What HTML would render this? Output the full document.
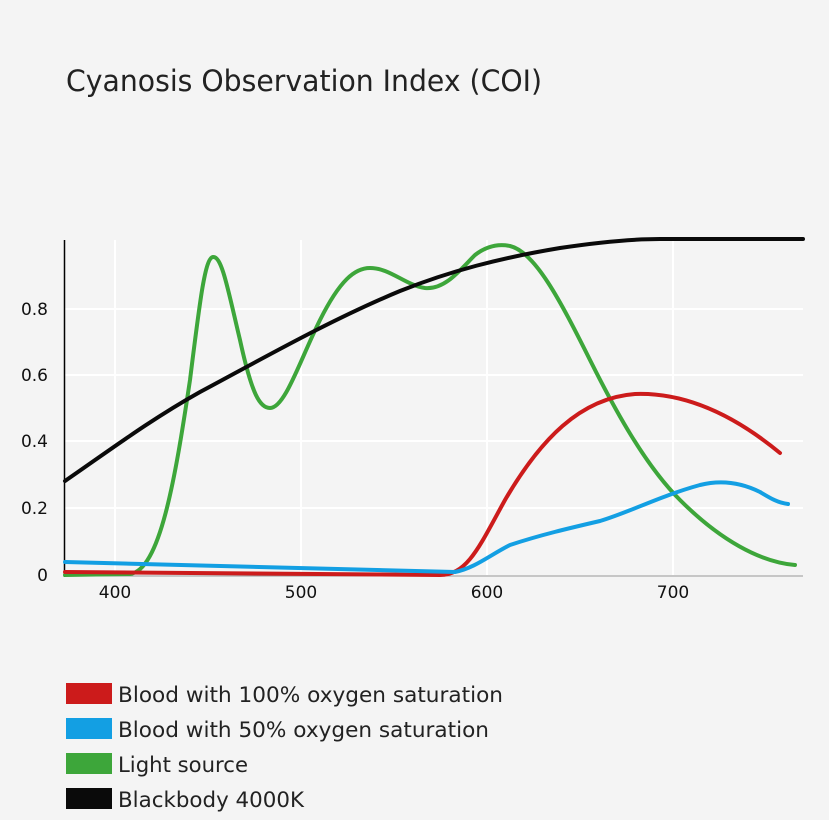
<!DOCTYPE html>
<html><head><meta charset="utf-8"><style>
body{margin:0;background:#f4f4f4;width:829px;height:815px;overflow:hidden;font-family:"Liberation Sans","DejaVu Sans",sans-serif;}
</style></head><body>
<svg width="829" height="815" xmlns="http://www.w3.org/2000/svg">
<rect width="829" height="815" fill="#f4f4f4"/>
<text x="66" y="91" font-size="29" fill="#222" font-family="DejaVu Sans, sans-serif" textLength="476" lengthAdjust="spacingAndGlyphs">Cyanosis Observation Index (COI)</text>
<g stroke="#fff" stroke-width="2">
<line x1="115" y1="240" x2="115" y2="575"/><line x1="301" y1="240" x2="301" y2="575"/>
<line x1="487" y1="240" x2="487" y2="575"/><line x1="673" y1="240" x2="673" y2="575"/>
<line x1="65" y1="309" x2="803" y2="309"/><line x1="65" y1="375" x2="803" y2="375"/>
<line x1="65" y1="441" x2="803" y2="441"/><line x1="65" y1="508" x2="803" y2="508"/>
</g>
<line x1="65" y1="576" x2="803" y2="576" stroke="#999" stroke-width="1"/>
<line x1="64.5" y1="240" x2="64.5" y2="577" stroke="#000" stroke-width="1.5"/>
<g font-size="17" fill="#111" font-family="DejaVu Sans, sans-serif" text-anchor="end">
<text x="48" y="315">0.8</text><text x="48" y="381">0.6</text><text x="48" y="447">0.4</text><text x="48" y="514">0.2</text><text x="48" y="581">0</text>
</g>
<g font-size="17" fill="#111" font-family="DejaVu Sans, sans-serif" text-anchor="middle">
<text x="115" y="598">400</text><text x="301" y="598">500</text><text x="487" y="598">600</text><text x="673" y="598">700</text>
</g>
<g fill="none" stroke-width="4" stroke-linecap="round" stroke-linejoin="round">
<path stroke="#3da63a" d="M65,575 L130,574 C160,570 175,480 190,380 C200,300 205,258 213,257 C222,256 228,290 240,340 C252,395 260,408 270,408 C285,408 300,360 320,320 C340,280 355,268 370,268 C390,268 405,285 425,288 C445,290 460,270 475,255 C488,245 500,244 510,246 C535,252 560,300 590,360 C615,410 645,465 680,500 C720,540 760,562 795,565"/>
<path stroke="#0a0a0a" d="M65,481 C110,450 150,420 200,392 C260,360 330,320 400,291 C450,271 500,258 560,248 C600,242 630,239 660,239 L803,239"/>
<path stroke="#cc1b1b" d="M65,572 L440,575 C468,575 480,545 505,500 C540,440 580,398 635,394 C690,392 740,420 780,453"/>
<path stroke="#139fe3" d="M65,562 L455,572 C475,568 490,555 510,545 C540,535 570,528 600,521 C630,512 660,496 700,485 C720,480 740,482 760,492 C770,498 778,503 788,504"/>
</g>
<g font-size="21" fill="#222" font-family="DejaVu Sans, sans-serif">
<rect x="66" y="683" width="46" height="21" fill="#cc1b1b"/><text x="118" y="702" textLength="385" lengthAdjust="spacingAndGlyphs">Blood with 100% oxygen saturation</text>
<rect x="66" y="718" width="46" height="21" fill="#139fe3"/><text x="118" y="737" textLength="371" lengthAdjust="spacingAndGlyphs">Blood with 50% oxygen saturation</text>
<rect x="66" y="753" width="46" height="21" fill="#3da63a"/><text x="118" y="772" textLength="130" lengthAdjust="spacingAndGlyphs">Light source</text>
<rect x="66" y="788" width="46" height="21" fill="#0a0a0a"/><text x="118" y="807" textLength="186" lengthAdjust="spacingAndGlyphs">Blackbody 4000K</text>
</g>
</svg>
</body></html>
